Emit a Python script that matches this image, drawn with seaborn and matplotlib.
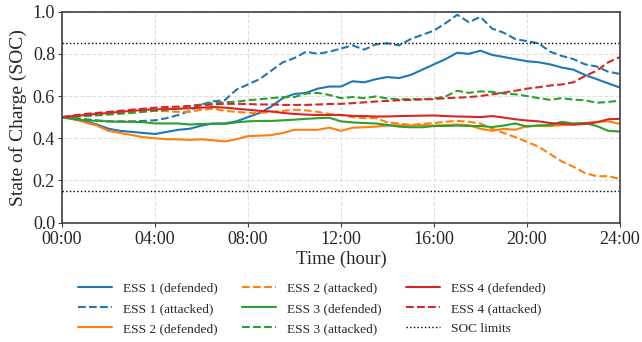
import numpy as np
import pandas as pd
import matplotlib
matplotlib.use("Agg")
import matplotlib.pyplot as plt
import seaborn as sns

# time grid in hours (half hour steps)
hours = np.arange(0, 24.5, 0.5)

ess1_defended = [0.50, 0.495, 0.48, 0.465, 0.445, 0.435, 0.43, 0.425, 0.42, 0.43, 0.44, 0.445, 0.46,
                 0.47, 0.47, 0.48, 0.50, 0.52, 0.55, 0.59, 0.61, 0.615, 0.635, 0.645, 0.645, 0.67,
                 0.665, 0.68, 0.69, 0.685, 0.70, 0.725, 0.75, 0.775, 0.805, 0.80, 0.815, 0.795, 0.785,
                 0.775, 0.765, 0.76, 0.75, 0.735, 0.725, 0.70, 0.68, 0.66, 0.64]
ess1_attacked = [0.50, 0.495, 0.49, 0.485, 0.48, 0.48, 0.48, 0.482, 0.485, 0.495, 0.51, 0.53, 0.56,
                 0.575, 0.58, 0.63, 0.655, 0.68, 0.72, 0.76, 0.78, 0.81, 0.80, 0.81, 0.825, 0.84,
                 0.82, 0.845, 0.85, 0.84, 0.87, 0.89, 0.91, 0.945, 0.985, 0.95, 0.975, 0.92, 0.90,
                 0.87, 0.86, 0.85, 0.81, 0.79, 0.775, 0.75, 0.74, 0.715, 0.705]
ess2_defended = [0.50, 0.49, 0.475, 0.46, 0.435, 0.425, 0.415, 0.405, 0.40, 0.395, 0.395, 0.392, 0.395,
                 0.39, 0.385, 0.395, 0.41, 0.412, 0.415, 0.425, 0.44, 0.44, 0.44, 0.45, 0.435, 0.45,
                 0.452, 0.455, 0.46, 0.462, 0.46, 0.462, 0.46, 0.462, 0.465, 0.462, 0.445, 0.435, 0.445,
                 0.44, 0.458, 0.458, 0.458, 0.462, 0.468, 0.472, 0.478, 0.48, 0.468]
ess2_attacked = [0.50, 0.505, 0.51, 0.515, 0.52, 0.522, 0.525, 0.527, 0.53, 0.528, 0.525, 0.525, 0.535,
                 0.54, 0.53, 0.525, 0.52, 0.52, 0.525, 0.53, 0.535, 0.532, 0.525, 0.515, 0.51, 0.50,
                 0.495, 0.495, 0.475, 0.47, 0.463, 0.468, 0.472, 0.478, 0.482, 0.478, 0.47, 0.445, 0.425,
                 0.405, 0.383, 0.36, 0.325, 0.29, 0.265, 0.235, 0.22, 0.22, 0.207]
ess3_defended = [0.50, 0.49, 0.485, 0.482, 0.48, 0.478, 0.478, 0.476, 0.47, 0.47, 0.47, 0.465, 0.468,
                 0.468, 0.468, 0.475, 0.48, 0.482, 0.482, 0.485, 0.488, 0.492, 0.495, 0.497, 0.48, 0.475,
                 0.472, 0.47, 0.463, 0.455, 0.452, 0.452, 0.458, 0.458, 0.46, 0.458, 0.458, 0.453, 0.46,
                 0.47, 0.455, 0.461, 0.462, 0.478, 0.47, 0.472, 0.458, 0.435, 0.432]
ess3_attacked = [0.50, 0.502, 0.505, 0.508, 0.512, 0.516, 0.52, 0.525, 0.53, 0.535, 0.54, 0.553, 0.56,
                 0.567, 0.57, 0.573, 0.58, 0.585, 0.59, 0.595, 0.595, 0.612, 0.615, 0.605, 0.59, 0.595,
                 0.59, 0.598, 0.588, 0.585, 0.585, 0.585, 0.588, 0.598, 0.625, 0.615, 0.622, 0.62, 0.612,
                 0.608, 0.60, 0.59, 0.582, 0.59, 0.583, 0.58, 0.568, 0.572, 0.578]
ess4_defended = [0.50, 0.505, 0.51, 0.515, 0.52, 0.525, 0.53, 0.534, 0.537, 0.538, 0.54, 0.542, 0.545,
                 0.548, 0.545, 0.54, 0.535, 0.53, 0.527, 0.52, 0.515, 0.512, 0.51, 0.51, 0.51, 0.506,
                 0.505, 0.503, 0.503, 0.505, 0.506, 0.507, 0.508, 0.505, 0.503, 0.502, 0.50, 0.505, 0.498,
                 0.49, 0.484, 0.48, 0.472, 0.468, 0.464, 0.468, 0.475, 0.49, 0.492]
ess4_attacked = [0.50, 0.508, 0.515, 0.52, 0.525, 0.53, 0.535, 0.54, 0.545, 0.548, 0.55, 0.553, 0.556,
                 0.56, 0.563, 0.563, 0.562, 0.56, 0.56, 0.558, 0.558, 0.558, 0.56, 0.562, 0.563, 0.566,
                 0.57, 0.574, 0.577, 0.58, 0.582, 0.584, 0.585, 0.59, 0.592, 0.595, 0.60, 0.608, 0.616,
                 0.625, 0.635, 0.642, 0.65, 0.655, 0.665, 0.695, 0.72, 0.76, 0.785]

soc_limits = [0.15, 0.85]
tick_hours = [0, 4, 8, 12, 16, 20, 24]
tick_labels = ["00:00", "04:00", "08:00", "12:00", "16:00", "20:00", "24:00"]

sns.set_style("whitegrid", {"grid.linestyle": "--", "grid.color": "0.88",
                            "axes.edgecolor": "0.25", "xtick.bottom": True, "ytick.left": True})
plt.rcParams['font.family'] = ['Liberation Serif', 'DejaVu Serif']

fig = plt.figure(figsize=(6.42, 3.42), dpi=100)
ax = fig.add_axes([0.0966, 0.349, 0.869, 0.617])

series = [
    ("ESS 1 (defended)", ess1_defended, "C0", "-"),
    ("ESS 1 (attacked)", ess1_attacked, "C0", "--"),
    ("ESS 2 (defended)", ess2_defended, "C1", "-"),
    ("ESS 2 (attacked)", ess2_attacked, "C1", "--"),
    ("ESS 3 (defended)", ess3_defended, "C2", "-"),
    ("ESS 3 (attacked)", ess3_attacked, "C2", "--"),
    ("ESS 4 (defended)", ess4_defended, "C3", "-"),
    ("ESS 4 (attacked)", ess4_attacked, "C3", "--"),
]
for name, vals, col, ls in series:
    df = pd.DataFrame({"t": hours, "soc": vals})
    sns.lineplot(data=df, x="t", y="soc", color=col, linestyle=ls, linewidth=1.5, label=name, ax=ax)

for i, lim in enumerate(soc_limits):
    ax.axhline(lim, color="black", linestyle=":", linewidth=1.0, label="SOC limits" if i == 0 else None)

ax.set_xlim(0, 24)
ax.set_ylim(0, 1.0)
ax.set_xticks(tick_hours)
ax.set_xticklabels(tick_labels)
ax.set_yticks([0.0, 0.2, 0.4, 0.6, 0.8, 1.0])
ax.tick_params(labelsize=13, length=3, width=0.8, color="0.25")
ax.tick_params(axis="x", pad=3)
ax.tick_params(axis="y", pad=2)
ax.set_xlabel("Time (hour)", fontsize=13.5, labelpad=2)
ax.set_ylabel("State of Charge (SOC)", fontsize=14, labelpad=4)
for sp in ax.spines.values():
    sp.set_linewidth(1.2)

# legend sits a bit left of the axes centre in the reference
ax.legend(ncol=3, loc="upper center", bbox_to_anchor=(0.448, -0.225), frameon=False,
          fontsize=9.6, handlelength=2.55, columnspacing=1.8, labelspacing=0.6, handletextpad=0.83)

plt.savefig("out.png", dpi=100)
